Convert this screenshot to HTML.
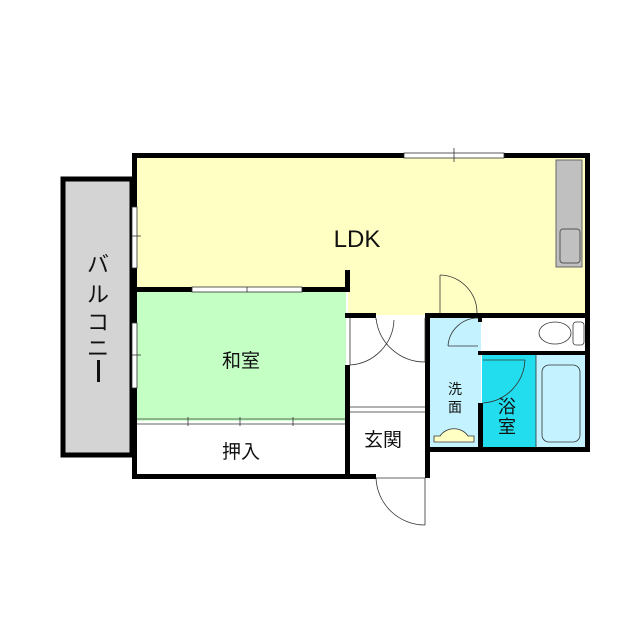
<!DOCTYPE html>
<html><head><meta charset="utf-8"><style>
html,body{margin:0;padding:0;background:#fff;}
svg{display:block}
text{font-family:"Liberation Sans","Noto Sans CJK JP",sans-serif;fill:#111}
</style></head><body>
<svg width="640" height="640" viewBox="0 0 640 640" xmlns="http://www.w3.org/2000/svg">
<rect width="640" height="640" fill="#fff"/>
<!-- balcony -->
<rect x="63" y="179" width="69" height="276" fill="#d4d4d4" stroke="#000" stroke-width="5"/>
<!-- room fills -->
<rect x="136" y="157" width="450" height="133" fill="#ffffc4"/>
<rect x="348" y="285" width="238" height="30" fill="#ffffc4"/>
<rect x="136" y="290" width="210" height="131" fill="#c4ffc4"/>
<rect x="429" y="317" width="52" height="132" fill="#c4f2ff"/>
<rect x="482" y="352" width="54" height="97" fill="#22ddee"/>
<rect x="536" y="352" width="50" height="97" fill="#c4f2ff"/>
<!-- kitchen -->
<rect x="556" y="160" width="26" height="107" fill="#c0c0c0" stroke="#666" stroke-width="1"/>
<rect x="560" y="229" width="20" height="34" rx="3" fill="#c0c0c0" stroke="#555" stroke-width="1"/>
<!-- walls -->
<g fill="#000">
<rect x="132" y="153" width="272" height="5"/>
<rect x="504" y="153" width="86" height="5"/>
<rect x="585" y="153" width="5" height="299"/>
<rect x="132" y="153" width="5" height="54"/>
<rect x="132" y="268" width="5" height="55"/>
<rect x="132" y="388" width="5" height="90"/>
<rect x="132" y="474" width="244" height="5"/>
<rect x="132" y="287" width="60" height="5"/>
<rect x="302" y="287" width="48" height="5"/>
<rect x="345" y="270" width="5" height="22"/>
<rect x="345" y="365" width="5" height="113"/>
<rect x="345" y="313" width="31" height="5"/>
<rect x="425" y="313" width="165" height="5"/>
<rect x="425" y="313" width="5" height="165"/>
<rect x="478" y="313" width="4" height="9"/>
<rect x="478" y="351" width="112" height="4"/>
<rect x="478" y="403" width="5" height="49"/>
<rect x="425" y="447" width="165" height="5"/>
</g>
<!-- windows -->
<g fill="#fff" stroke="#333" stroke-width="0.8">
<rect x="404" y="153" width="100" height="5"/>
<rect x="132" y="207" width="5" height="61"/>
<rect x="132" y="323" width="5" height="65"/>
<rect x="192" y="287" width="110" height="5"/>
</g>
<g stroke="#333" stroke-width="0.8" fill="none">
<line x1="454" y1="148" x2="454" y2="162"/>
<line x1="132" y1="236" x2="141" y2="236"/>
<line x1="132" y1="355" x2="141" y2="355"/>
<line x1="247" y1="287" x2="247" y2="292"/>
<!-- oshiire sliding -->
<line x1="137" y1="419" x2="345" y2="419"/>
<line x1="137" y1="424" x2="345" y2="424"/>
<line x1="188" y1="417" x2="188" y2="426"/>
<line x1="240" y1="417" x2="240" y2="426"/>
<line x1="293" y1="417" x2="293" y2="426"/>
<!-- hall doors -->
<line x1="350" y1="365" x2="350" y2="318"/>
<path d="M350 365 A47 47 0 0 0 394 320"/>
<path d="M376 318 L376 320 M425 362 A49 49 0 0 1 376 318"/>
<line x1="425" y1="318" x2="425" y2="362"/>
<line x1="350" y1="407" x2="425" y2="407"/>
<line x1="350" y1="412" x2="425" y2="412"/>
<!-- LDK door -->
<line x1="440" y1="275" x2="440" y2="313"/>
<path d="M440 275 A38 38 0 0 1 477 313"/>
<!-- washroom door -->
<path d="M448 346 A30 30 0 0 1 478 318"/>
<line x1="448" y1="346" x2="478" y2="346"/>
<!-- bath door -->
<path d="M483 403 A45 45 0 0 0 525 360"/>
<line x1="483" y1="360" x2="525" y2="360"/>
<!-- front door -->
<line x1="425" y1="478" x2="425" y2="525"/>
<path d="M376 478 A49 49 0 0 0 425 525"/>
<line x1="376" y1="478" x2="425" y2="478"/>
<!-- bathtub -->
<rect x="542" y="365" width="38" height="77" rx="7"/>
<line x1="536" y1="355" x2="536" y2="447"/>
<!-- toilet -->
<ellipse cx="555" cy="333" rx="16" ry="11" fill="#fff"/>
<rect x="573" y="322" width="11" height="23" rx="3" fill="#fff"/>
<!-- sink -->
<path d="M434 442 L434 436 L440 436 A16 14 0 0 1 468 436 L474 436 L474 442 Z" fill="#ffffc4"/>
</g>
<!-- labels -->
<text x="357" y="247" font-size="24" text-anchor="middle">LDK</text>
<text x="241" y="367" font-size="19" text-anchor="middle">和室</text>
<text x="241" y="458" font-size="19" text-anchor="middle">押入</text>
<text x="383" y="446" font-size="19" text-anchor="middle">玄関</text>
<text x="455" y="394" font-size="14" text-anchor="middle">洗</text>
<text x="455" y="412" font-size="14" text-anchor="middle">面</text>
<text x="507" y="413" font-size="18" text-anchor="middle">浴</text>
<text x="507" y="433" font-size="18" text-anchor="middle">室</text>
<g font-size="22" text-anchor="middle">
<text x="98" y="272">バ</text>
<text x="98" y="302">ル</text>
<text x="98" y="330">コ</text>
<text x="98" y="356">ニ</text>
</g>
<rect x="97" y="360" width="3" height="22" fill="#111"/>
</svg>
</body></html>
